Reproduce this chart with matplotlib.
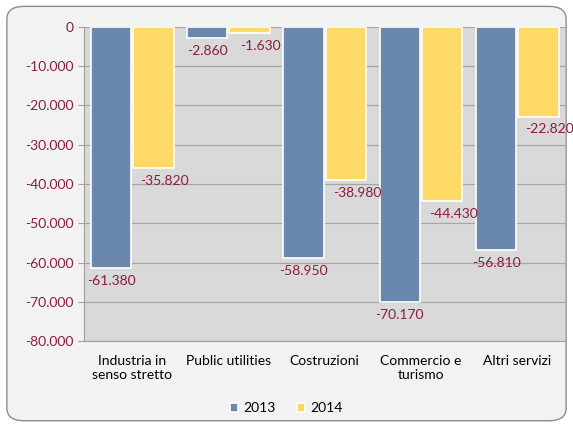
import matplotlib.pyplot as plt
import numpy as np
from matplotlib.patches import FancyBboxPatch
from matplotlib.ticker import FuncFormatter

categories = ['Industria in\nsenso stretto', 'Public utilities', 'Costruzioni',
              'Commercio e\nturismo', 'Altri servizi']
series_2013 = [-61380, -2860, -58950, -70170, -56810]
series_2014 = [-35820, -1630, -38980, -44430, -22820]

plt.rcParams['font.family'] = ['Lato', 'DejaVu Sans']

blue = '#6a88ad'
yellow = '#ffd966'
red = '#8c1c3c'

fig = plt.figure(figsize=(5.73, 4.25), dpi=100)
fig.patch.set_facecolor('white')
# rounded chart border
fig.patches.append(FancyBboxPatch((0.012, 0.01), 0.976, 0.975, boxstyle='round,pad=0,rounding_size=0.03',
                                  transform=fig.transFigure, facecolor='#f2f2f2',
                                  edgecolor='#8c8c8c', linewidth=1.0, zorder=-1))

ax = fig.add_axes([0.1466, 0.1976, 0.84, 0.739])
ax.set_facecolor('#d9d9d9')

x = np.arange(len(categories))
w = 0.42
b1 = ax.bar(x - w / 2 - 0.01, series_2013, w, color=blue, edgecolor='white', linewidth=1.2,
            label='2013', zorder=3)
b2 = ax.bar(x + w / 2 + 0.01, series_2014, w, color=yellow, edgecolor='white', linewidth=1.2,
            label='2014', zorder=3)

def fmt(v):
    return '{:,.0f}'.format(v).replace(',', '.')

for xi, v in zip(x, series_2013):
    ax.annotate(fmt(v), (xi - w / 2 - 0.01, v), xytext=(0, -5), textcoords='offset points',
                ha='center', va='top', color=red, fontsize=10, zorder=4)
for xi, v in zip(x, series_2014):
    ax.annotate(fmt(v), (xi + w / 2 + 0.01, v), xytext=(8, -5), textcoords='offset points',
                ha='center', va='top', color=red, fontsize=10, zorder=4)

ax.set_ylim(-80000, 0)
ax.set_xlim(-0.5, 4.5)
ax.set_yticks(np.arange(-80000, 1, 10000))
ax.yaxis.set_major_formatter(FuncFormatter(lambda v, p: fmt(v)))
ax.tick_params(axis='y', colors=red, labelsize=10, length=4, direction='out', color='#a0a0a0')
ax.tick_params(axis='x', length=0, labelsize=10, pad=10, labelcolor='black')
ax.set_xticks(x)
ax.set_xticklabels(categories)
ax.grid(axis='y', color='#a6a6a6', linewidth=0.9, zorder=0)
ax.set_axisbelow(True)
for s in ['top', 'right']:
    ax.spines[s].set_visible(False)
ax.spines['left'].set_color('#a0a0a0')
ax.spines['bottom'].set_color('#a0a0a0')

fig.legend(handles=[b1, b2], labels=['2013', '2014'], loc='center', bbox_to_anchor=(0.5, 0.04),
           ncol=2, frameon=False, fontsize=10, handlelength=0.6, handleheight=0.6,
           columnspacing=1.5, handletextpad=0.4)

fig.savefig('out.png', dpi=100, facecolor=fig.get_facecolor())
